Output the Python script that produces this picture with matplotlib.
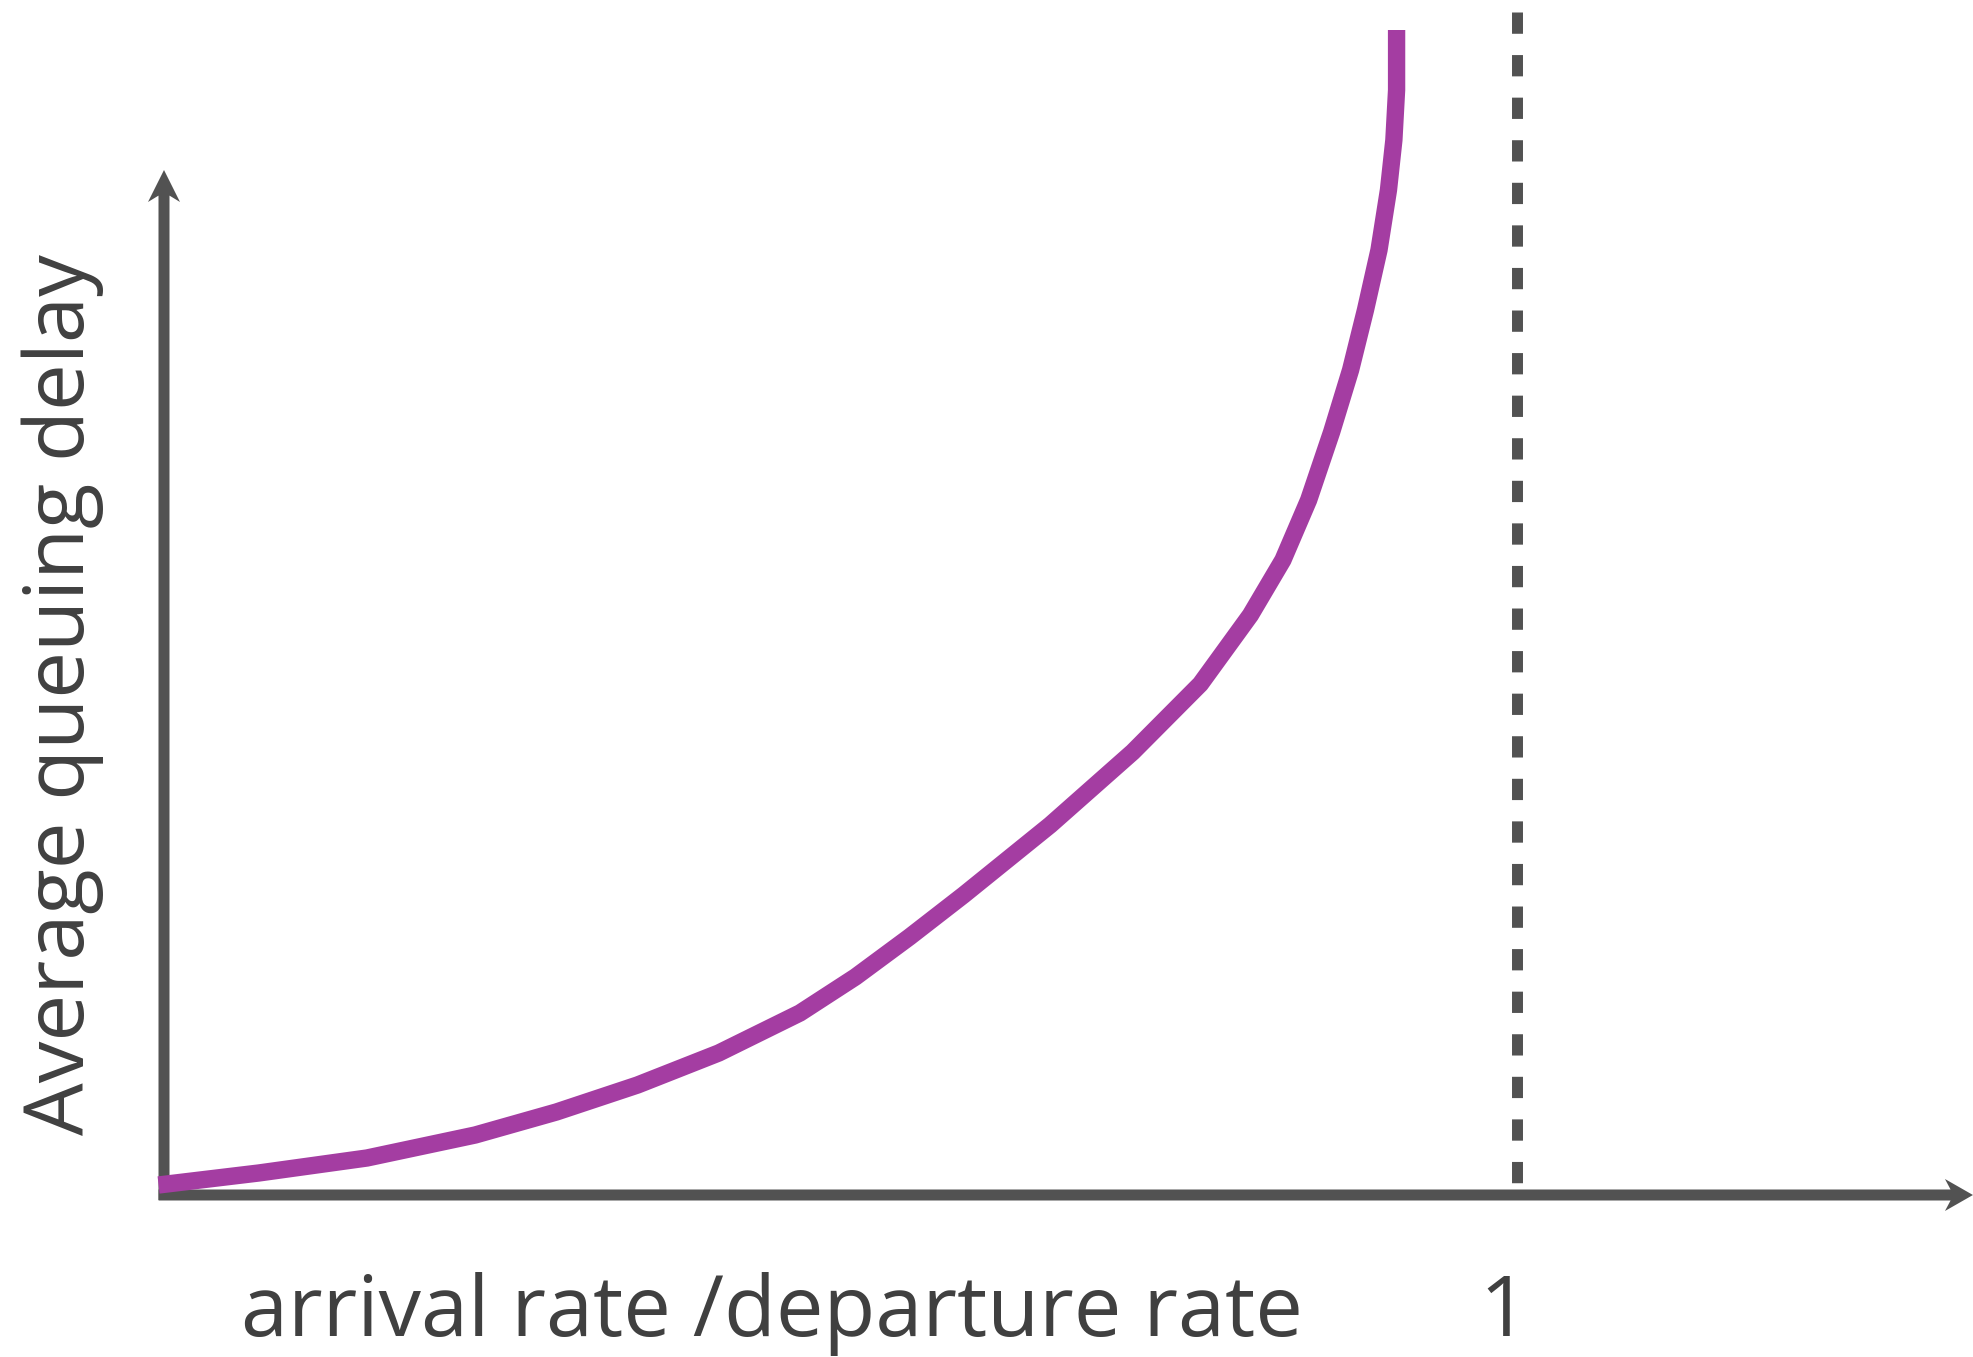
# Average queuing delay vs traffic intensity (sketch)

import matplotlib.pyplot as plt

plt.rcParams['font.family'] = ['Open Sans', 'DejaVu Sans']

# Curve: x = arrival rate / departure rate, y = delay (arbitrary units)
rate = [-0.004, 0.070, 0.150, 0.230, 0.290, 0.350, 0.410, 0.470, 0.511,
        0.551, 0.591, 0.655, 0.716, 0.766, 0.803, 0.827, 0.846, 0.863,
        0.877, 0.888, 0.898, 0.905, 0.909, 0.911, 0.911]
delay = [0.10, 0.22, 0.37, 0.60, 0.83, 1.10, 1.42, 1.82, 2.18,
         2.58, 3.00, 3.70, 4.43, 5.11, 5.80, 6.35, 6.95, 7.63,
         8.25, 8.85, 9.45, 10.05, 10.55, 11.05, 11.65]

xlabel = 'arrival rate /departure rate'
ylabel = 'Average queuing delay'
limit = 1
limit_label = '1'

grey = '#525252'
purple = '#A43DA2'
text_col = '#404040'

fig = plt.figure(figsize=(19.73, 13.57), dpi=100)
ax = fig.add_axes([0, 0, 1, 1])
# 1 unit of x = 1353 px, 1 unit of y = 100 px
ax.set_xlim(-164 / 1353, (1973 - 164) / 1353)
ax.set_ylim((1195 - 1357) / 100, 1195 / 100)
ax.axis('off')

# axes with arrows
ax.arrow(0, -0.05, 0, 10.30, width=11 / 1353, head_width=32 / 1353,
         head_length=0.32, overhang=0.2, length_includes_head=True,
         color=grey, lw=0)
ax.arrow(-0.004, 0, 1.341, 0, width=0.11, head_width=0.32,
         head_length=28 / 1353, overhang=0.2, length_includes_head=True,
         color=grey, lw=0)

# dashed line at rate = 1
ax.plot([limit, limit], [11.83, 0.10], color=grey, lw=7.9,
        dashes=(1.94, 1.94), solid_capstyle='butt')

# the curve
ax.plot(rate, delay, color=purple, lw=12.5, solid_joinstyle='round',
        solid_capstyle='butt')

# labels
ax.text(0.0568, -1.41, xlabel, fontsize=61, color=text_col,
        ha='left', va='baseline')
ax.text(0.990, -1.41, limit_label, fontsize=61, color=text_col,
        ha='center', va='baseline')
ax.text(-0.059, 5.0, ylabel, fontsize=60, color=text_col, rotation=90,
        rotation_mode='anchor', ha='center', va='baseline')

fig.savefig('out.png', dpi=100, facecolor='white')
